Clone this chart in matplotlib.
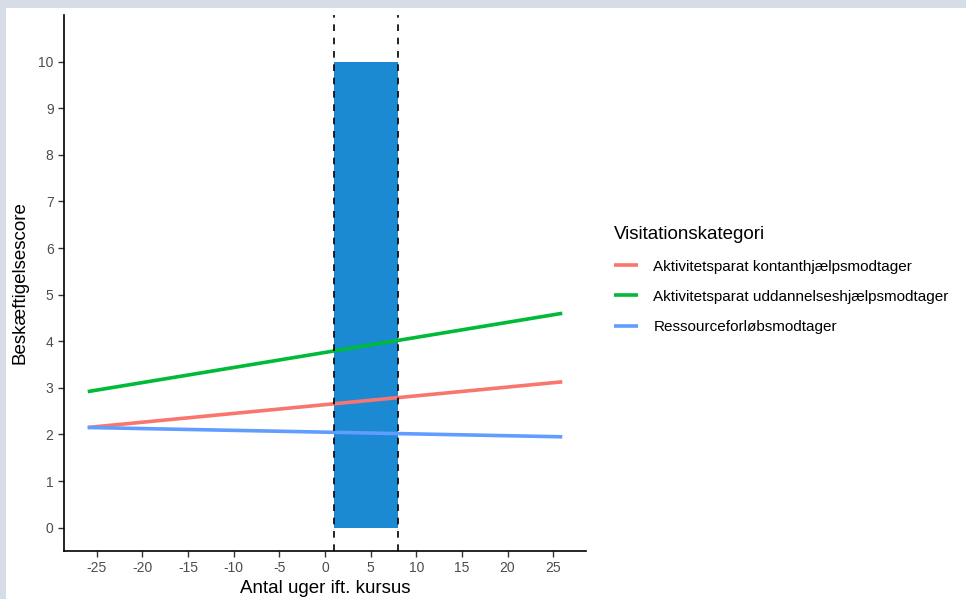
import matplotlib
matplotlib.use("Agg")
import matplotlib.pyplot as plt
from matplotlib.patches import Rectangle

plt.rcParams['font.family'] = ['Liberation Sans', 'DejaVu Sans']
plt.rcParams['axes.unicode_minus'] = False

# Data
categories = ["Aktivitetsparat kontanthjælpsmodtager",
              "Aktivitetsparat uddannelseshjælpsmodtager",
              "Ressourceforløbsmodtager"]
colors = ["#F8766D", "#00BA38", "#619CFF"]
x_weeks = [-26, 26]
y_kontant = [2.15, 3.13]
y_uddannelse = [2.92, 4.60]
y_ressource = [2.15, 1.95]
series = [y_kontant, y_uddannelse, y_ressource]

course_start, course_end = 1, 8
course_low, course_high = 0, 10
xticks = list(range(-25, 30, 5))
yticks = list(range(0, 11))

W, H = 966, 599
fig = plt.figure(figsize=(W / 100, H / 100), dpi=100)
fig.patch.set_facecolor("white")
border = "#d6dde6"
fig.patches.append(Rectangle((0, (H - 8) / H), 1, 8 / H, transform=fig.transFigure,
                             facecolor=border, edgecolor="none"))
fig.patches.append(Rectangle((0, 0), 6 / W, 1, transform=fig.transFigure,
                             facecolor=border, edgecolor="none"))

ax = fig.add_axes([64 / W, (H - 551) / H, (586 - 64) / W, (551 - 15) / H])
ax.set_facecolor("none")

ax.add_patch(Rectangle((course_start, course_low), course_end - course_start,
                       course_high - course_low, facecolor="#1b8ad3",
                       edgecolor="none", zorder=1))

for name, col, ys in zip(categories, colors, series):
    ax.plot(x_weeks, ys, color=col, lw=2.6, label=name, zorder=2, solid_capstyle="butt")

for xv in (course_start, course_end):
    ax.axvline(xv, color="black", lw=1.2, ls=(0, (4, 4)), zorder=3)

ax.set_xlim(-28.6, 28.6)
ax.set_ylim(-0.5, 11.0)
ax.set_xticks(xticks)
ax.set_yticks(yticks)
ax.tick_params(axis="both", colors="#333333", labelcolor="#4D4D4D", labelsize=10,
               length=4, width=1)
for s in ("top", "right"):
    ax.spines[s].set_visible(False)
for s in ("left", "bottom"):
    ax.spines[s].set_linewidth(1.2)
    ax.spines[s].set_color("black")

ax.set_xlabel("Antal uger ift. kursus", fontsize=13.5, color="black", labelpad=3)
ax.set_ylabel("Beskæftigelsescore", fontsize=13.5, color="black", labelpad=7)

leg = fig.legend(loc="center left", bbox_to_anchor=(600 / W, 1 - 280 / H),
                 frameon=False, fontsize=11, title="Visitationskategori",
                 title_fontsize=13.5, handlelength=1.6, handletextpad=1.0,
                 labelspacing=1.05, alignment="left")
leg._legend_box.sep = 12

fig.savefig("out.png", dpi=100, facecolor=fig.get_facecolor())
